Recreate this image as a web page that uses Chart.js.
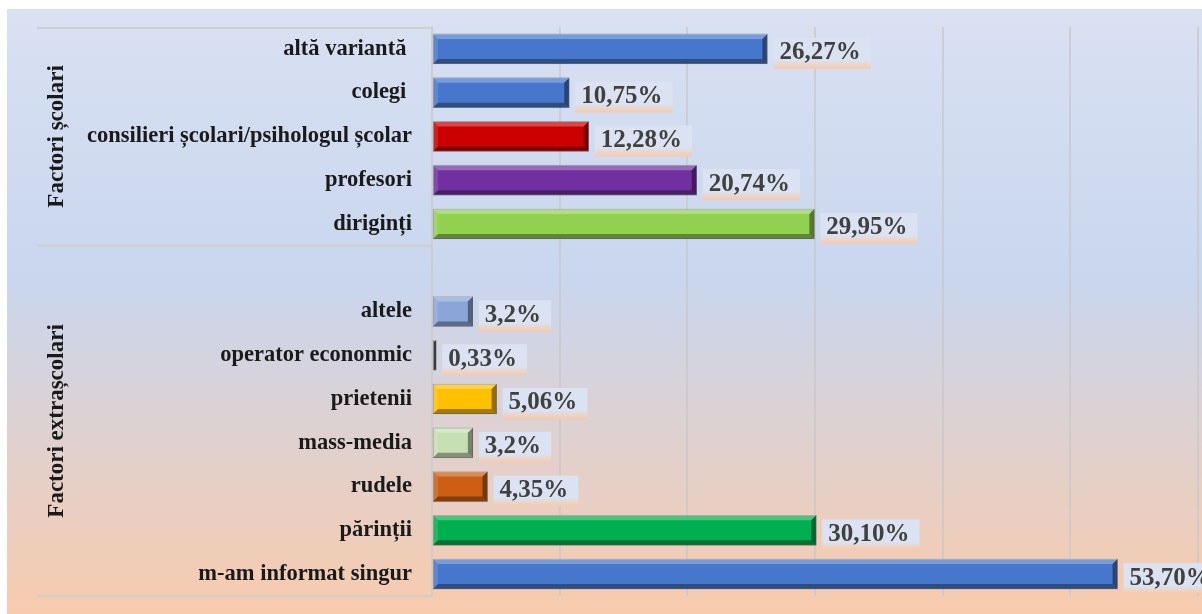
<!DOCTYPE html>
<html>
<head>
<meta charset="utf-8">
<script src="https://cdn.jsdelivr.net/npm/chart.js@4.4.1/dist/chart.umd.min.js"></script>
<style>
  html, body { margin: 0; padding: 0; background: #fff; overflow: hidden; }
</style>
</head>
<body>
<canvas id="chart" width="1202" height="614"></canvas>
<script>
// Chart data
const categories = [
  "altă variantă ", "colegi ", "consilieri școlari/psihologul școlar", "profesori", "diriginți",
  "",
  "altele", "operator econonmic", "prietenii", "mass-media", "rudele", "părinții", "m-am informat singur"
];
const values = [26.27, 10.75, 12.28, 20.74, 29.95, null, 3.2, 0.33, 5.06, 3.2, 4.35, 30.10, 53.70];
const valueLabels = ["26,27%", "10,75%", "12,28%", "20,74%", "29,95%", "", "3,2%", "0,33%", "5,06%", "3,2%", "4,35%", "30,10%", "53,70%"];
const barColors = [
  "#4677cc", "#4677cc", "#cc0000", "#7030a0", "#92d050",
  "transparent",
  "#8aa6d9", "#3a3a3a", "#ffc000", "#c6e0b4", "#cc5f14", "#00b050", "#4677cc"
];
const groupNames = ["Factori școlari", "Factori extrașcolari"];
const groupFirst = [0, 5];
const groupLast = [4, 12];

const SERIF = "'Liberation Serif', 'Times New Roman', serif";

// Background gradient behind everything
const backgroundPlugin = {
  id: "pageBackground",
  beforeDraw(chart) {
    const ctx = chart.ctx;
    ctx.save();
    ctx.fillStyle = "#ffffff";
    ctx.fillRect(0, 0, chart.width, chart.height);
    const g = ctx.createLinearGradient(0, 9, 0, chart.height);
    g.addColorStop(0, "#d9e1f2");
    g.addColorStop(0.45, "#c9d6ee");
    g.addColorStop(1, "#f8cbad");
    ctx.fillStyle = g;
    ctx.fillRect(7, 9, chart.width - 7, chart.height - 9);
    ctx.restore();
  }
};

// Bevel shading on the bars
const bevelPlugin = {
  id: "bevel",
  afterDatasetsDraw(chart) {
    const ctx = chart.ctx;
    const meta = chart.getDatasetMeta(0);
    ctx.save();
    meta.data.forEach((bar, i) => {
      if (values[i] == null) return;
      const p = bar.getProps(["x", "y", "base", "height"], true);
      const l = p.base, r = p.x, t = p.y - p.height / 2, b = p.y + p.height / 2;
      const s = Math.min(5, (r - l) / 2);
      const poly = (pts, color) => {
        ctx.beginPath();
        ctx.moveTo(pts[0][0], pts[0][1]);
        pts.slice(1).forEach((q) => ctx.lineTo(q[0], q[1]));
        ctx.closePath();
        ctx.fillStyle = color;
        ctx.fill();
      };
      poly([[l, t], [r, t], [r - s, t + s], [l + s, t + s]], "rgba(255,255,255,0.28)");
      poly([[l, b], [r, b], [r - s, b - s], [l + s, b - s]], "rgba(0,0,0,0.35)");
      poly([[r, t], [r, b], [r - s, b - s], [r - s, t + s]], "rgba(0,0,0,0.42)");
      poly([[l, t], [l, b], [l + s, b - s], [l + s, t + s]], "rgba(255,255,255,0.12)");
    });
    ctx.restore();
  }
};

// Value labels with a small gradient box
const valueLabelPlugin = {
  id: "valueLabels",
  afterDraw(chart) {
    const ctx = chart.ctx;
    const meta = chart.getDatasetMeta(0);
    ctx.save();
    ctx.font = "bold 25px " + SERIF;
    ctx.textBaseline = "middle";
    ctx.textAlign = "left";
    meta.data.forEach((bar, i) => {
      if (values[i] == null) return;
      const p = bar.getProps(["x", "y"], true);
      const text = valueLabels[i];
      const w = ctx.measureText(text).width;
      const bx = p.x + 6, by = p.y - 11, bw = w + 16, bh = 31;
      const g = ctx.createLinearGradient(0, by, 0, by + bh);
      g.addColorStop(0, "#dbe2f2");
      g.addColorStop(0.72, "#dbe2f2");
      g.addColorStop(1, "#f7c9a8");
      ctx.fillStyle = g;
      ctx.fillRect(bx, by, bw, bh);
      ctx.fillStyle = "#404040";
      ctx.fillText(text, bx + 6, p.y + 4);
    });
    ctx.restore();
  }
};

// Group labels and the left-hand category frame lines
const groupPlugin = {
  id: "groups",
  afterDraw(chart) {
    const ctx = chart.ctx;
    const y = chart.scales.y;
    const area = chart.chartArea;
    const step = y.getPixelForValue(1) - y.getPixelForValue(0);
    ctx.save();
    ctx.strokeStyle = "rgba(205,205,205,0.9)";
    ctx.lineWidth = 2;
    const lines = [area.top + 1];
    groupLast.forEach((idx) => lines.push(y.getPixelForValue(idx) + step / 2));
    lines.forEach((ly) => {
      ctx.beginPath();
      ctx.moveTo(37, ly);
      ctx.lineTo(area.left, ly);
      ctx.stroke();
    });
    ctx.fillStyle = "#1a1a1a";
    ctx.font = "bold 23px " + SERIF;
    ctx.textAlign = "center";
    ctx.textBaseline = "middle";
    groupNames.forEach((name, k) => {
      const top = y.getPixelForValue(groupFirst[k]) - step / 2;
      const bottom = y.getPixelForValue(groupLast[k]) + step / 2;
      ctx.save();
      ctx.translate(57, (top + bottom) / 2);
      ctx.rotate(-Math.PI / 2);
      ctx.fillText(name, 0, 0);
      ctx.restore();
    });
    ctx.restore();
  }
};

const ctx = document.getElementById("chart").getContext("2d");
new Chart(ctx, {
  type: "bar",
  data: {
    labels: categories,
    datasets: [{
      data: values,
      backgroundColor: barColors,
      borderColor: "rgba(0,0,0,0.3)",
      borderWidth: 1,
      borderSkipped: false,
      barThickness: 30
    }]
  },
  plugins: [backgroundPlugin, bevelPlugin, valueLabelPlugin, groupPlugin],
  options: {
    responsive: false,
    animation: false,
    indexAxis: "y",
    layout: { padding: { top: 27, bottom: 18, right: 4, left: 0 } },
    plugins: {
      legend: { display: false },
      tooltip: { enabled: false }
    },
    scales: {
      x: {
        min: 0,
        max: 60,
        afterFit: (scale) => { scale.height = 0; },
        ticks: { display: false, stepSize: 10 },
        grid: {
          drawTicks: false,
          color: "rgba(200,200,200,0.75)",
          lineWidth: 2
        },
        border: { display: false }
      },
      y: {
        afterFit: (scale) => {
          scale.width = 432;
          scale.paddingTop = 0;
          scale.paddingBottom = 0;
        },
        ticks: {
          padding: 20,
          color: "#1a1a1a",
          font: { family: SERIF, size: 22.5, weight: "bold" }
        },
        grid: { display: false, drawTicks: false },
        border: { display: true, color: "rgba(205,205,205,0.9)", width: 2 }
      }
    }
  }
});
</script>
</body>
</html>
